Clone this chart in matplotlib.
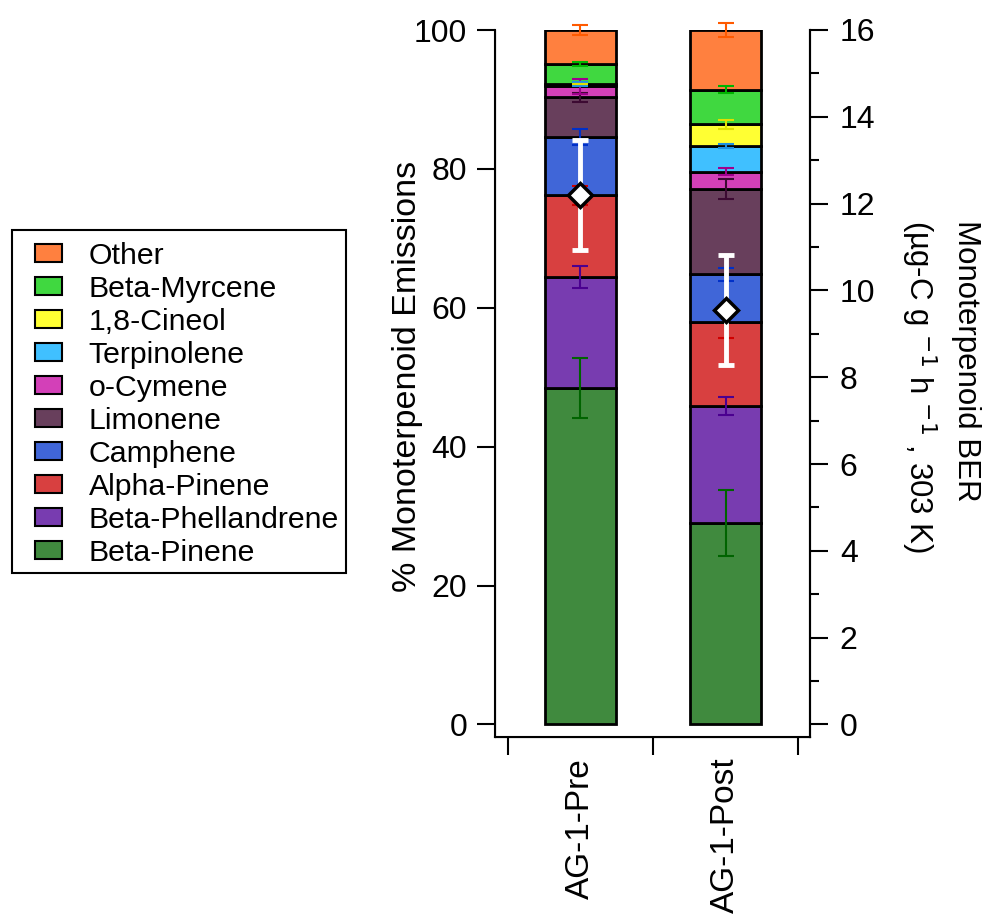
import matplotlib
matplotlib.use("Agg")
import matplotlib.pyplot as plt
from matplotlib.patches import Patch, Rectangle
from matplotlib.ticker import MultipleLocator, FixedLocator, NullFormatter
import numpy as np

plt.rcParams['font.family'] = ['Liberation Sans', 'DejaVu Sans']

samples = ["AG-1-Pre", "AG-1-Post"]
compounds = ["Beta-Pinene", "Beta-Phellandrene", "Alpha-Pinene", "Camphene", "Limonene",
             "o-Cymene", "Terpinolene", "1,8-Cineol", "Beta-Myrcene", "Other"]
fill_colors = ["#408A3E", "#783CB0", "#D84040", "#4066D8", "#683F5C",
               "#D340B8", "#40C0FF", "#FFFF33", "#40D840", "#FF803F"]
err_colors = ["#006400", "#4B0090", "#D00000", "#0030C8", "#3C0A32",
              "#A0008C", "#1E90E0", "#E0E000", "#00B400", "#FF5A00"]

# percent of monoterpenoid emissions, per compound: [Pre, Post]
pct_pre = [48.5, 15.9, 11.8, 8.4, 5.7, 1.6, 0.3, 0.0, 2.9, 4.9]
pct_post = [29.0, 16.9, 12.0, 6.9, 12.3, 2.5, 3.7, 3.1, 5.0, 8.6]
err_pre = [4.3, 1.6, 1.4, 1.2, 0.7, 1.1, 0.3, 0.0, 0.3, 0.7]
err_post = [4.8, 1.3, 2.3, 1.0, 1.4, 0.5, 0.3, 0.6, 0.5, 1.0]

# basal emission rate (ug-C g-1 h-1, 303 K)
ber = [12.2, 9.55]
ber_err = [1.27, 1.27]

fig = plt.figure(figsize=(9.87, 9.17), dpi=100)
ax = fig.add_axes([495/987, 1-737/917, (810-495)/987, (737-30)/917])

x = np.arange(len(samples))
width = 0.486
bottoms = np.zeros(len(samples))
vals = np.array([pct_pre, pct_post]).T
errs = np.array([err_pre, err_post]).T
tops_all = []
for i, comp in enumerate(compounds):
    ax.bar(x, vals[i], width, bottom=bottoms, color=fill_colors[i],
           edgecolor="black", linewidth=2.0, zorder=2)
    bottoms = bottoms + vals[i]
    tops_all.append(bottoms.copy())
for i, comp in enumerate(compounds):
    ax.errorbar(x, tops_all[i], yerr=errs[i], fmt="none", ecolor=err_colors[i],
                elinewidth=1.5, capsize=6, capthick=1.5, zorder=3, clip_on=False)

ax.set_xlim(-0.587, 1.58)
ax.set_ylim(-1.8, 100)
ax.spines['top'].set_visible(False)
for s in ['left', 'right', 'bottom']:
    ax.spines[s].set_linewidth(1.5)

ax.yaxis.set_major_locator(MultipleLocator(20))
ax.tick_params(axis='y', which='major', direction='out', length=13, width=1.5,
               labelsize=23, pad=7)
ax.set_ylabel("% Monoterpenoid Emissions", fontsize=24.5)
ax.yaxis.set_label_coords(-0.23, 0.51)

ax.xaxis.set_major_locator(FixedLocator([-0.5, 0.5, 1.5]))
ax.xaxis.set_major_formatter(NullFormatter())
ax.xaxis.set_minor_locator(FixedLocator(x))
ax.set_xticks(x, samples, minor=True)
ax.tick_params(axis='x', which='major', direction='out', length=13, width=1.5)
ax.tick_params(axis='x', which='minor', length=0, labelsize=24, pad=15,
               labelrotation=90)

ax2 = ax.twinx()
ax2.set_ylim(-1.8 * 0.16, 16)
ax2.spines['top'].set_visible(False)
ax2.spines['right'].set_linewidth(1.5)
ax2.yaxis.set_major_locator(MultipleLocator(2))
ax2.yaxis.set_minor_locator(MultipleLocator(1))
ax2.tick_params(axis='y', which='major', direction='out', length=13, width=1.5,
                labelsize=23, pad=8.5)
ax2.tick_params(axis='y', which='minor', direction='out', length=6.5, width=1.5)

fig.text(940/987, 1-387/917, "Monoterpenoid BER\n(µg-C g $^{-1}$ h $^{-1}$ , 303 K)",
         fontsize=22.5, rotation=-90, ha="center", va="center",
         multialignment="left", linespacing=1.45)

ax2.errorbar(x, ber, yerr=ber_err, fmt="none", ecolor="white", elinewidth=3.5,
             capsize=6, capthick=3.5, zorder=5)
ax2.plot(x, ber, linestyle="none", marker="D", markersize=12, markerfacecolor="white",
         markeredgecolor="black", markeredgewidth=2.5, zorder=6)

handles = [Patch(facecolor=fill_colors[i], edgecolor="black", linewidth=1.5, label=compounds[i])
           for i in range(len(compounds))][::-1]
leg = fig.legend(handles=handles, loc="upper left", bbox_to_anchor=(35/987, 1-242/917),
                 bbox_transform=fig.transFigure, borderaxespad=0, borderpad=0,
                 fontsize=21.8, frameon=False, handlelength=0.9, handleheight=0.55,
                 handletextpad=0.87, labelspacing=0.165)
fig.add_artist(Rectangle((12/987, 1-573/917), 334/987, 343/917, transform=fig.transFigure,
                         fill=False, edgecolor="black", linewidth=1.5))

fig.savefig("out.png", dpi=100)
